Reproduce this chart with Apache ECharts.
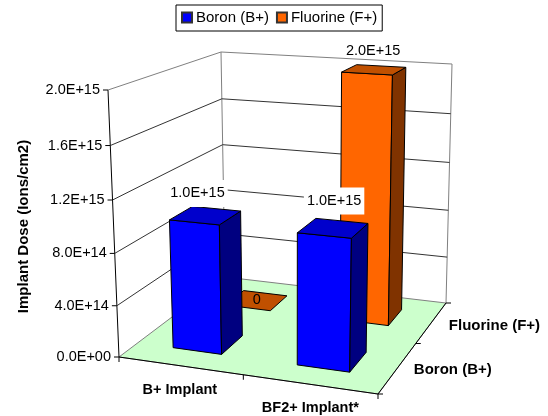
<!DOCTYPE html>
<html><head><meta charset="utf-8">
<style>html,body{margin:0;padding:0;background:#fff}#c{width:548px;height:416px}</style>
<script src="https://cdn.jsdelivr.net/npm/echarts@6/dist/echarts.min.js"></script>
</head><body><div id="c"></div>
<script>
const categories = ['B+ Implant', 'BF2+ Implant*'];
const depthNames = ['Boron (B+)', 'Fluorine (F+)'];
const boron = [1e15, 1e15];
const fluorine = [0, 2e15];
const yTicks = [0, 4e14, 8e14, 1.2e15, 1.6e15, 2e15];
const yMax = 2e15;

// projected corners of the 3D box (layout)
const FONT = '"Liberation Sans", Arial, sans-serif';
const A=[119,357],B=[378,394],C=[446,303],D=[225,277];
const E=[108,90],F=[384,108],G=[452,64],H=[221,52];
function project(u,v,h){
  const uu=u-0.08*u*(1-u), vv=v+0.22*v*(1-v), hh=h-0.05*h*(1-h);
  const out=[0,1].map(i=>{
    const bot=A[i]*(1-uu)*(1-vv)+B[i]*uu*(1-vv)+C[i]*uu*vv+D[i]*(1-uu)*vv;
    const top=E[i]*(1-uu)*(1-vv)+F[i]*uu*(1-vv)+G[i]*uu*vv+H[i]*(1-uu)*vv;
    return bot*(1-hh)+top*hh;
  });
  return out;
}
function norm(params,api,cat,val){
  const cs=params.coordSys, p=api.coord([cat,val]);
  return {u:(p[0]-cs.x)/cs.width, h:(cs.y+cs.height-p[1])/cs.height, cs};
}
function poly(points,fill,stroke){
  return {type:'polygon',shape:{points},style:{fill:fill,stroke:stroke||'#000',lineWidth:1}};
}
function seg(a,b,color){
  return {type:'line',shape:{x1:a[0],y1:a[1],x2:b[0],y2:b[1]},style:{stroke:color||'#000',lineWidth:1,fill:null}};
}
function txt(x,y,t,o){
  return {type:'text',x:x,y:y,z2:(o&&o.z2)||5,style:Object.assign({text:t,fill:'#000',font:(o&&o.bold?'bold ':'')+((o&&o.size)||14.5)+'px '+FONT,textAlign:'center',textVerticalAlign:'middle'},o&&o.extra||{})};
}
function fmt(v){
  const parts=v.toExponential(1).toUpperCase().split('E+');
  return parts[0]+'E+'+parts[1].padStart(2,'0');
}

function renderFrame(params,api){
  const val=api.value(1), n=norm(params,api,0,val), h=n.h, ch=[];
  const isTop=val===yMax, gridColor=isTop?'#808080':'#333';
  const a=project(0,0,h),b=project(0,1,h),c=project(1,1,h);
  if(params.dataIndex===0){
    ch.push(poly([project(0,0,0),project(1,0,0),project(1,1,0),project(0,1,0)],'#CCFFCC','#808080'));
    ch.push(seg(project(0,1,0),project(0,1,1),'#808080'));
    ch.push(seg(project(1,1,0),project(1,1,1),'#808080'));
    ch.push(seg(project(0,0,0),project(1,0,0)));
    ch.push(seg(project(1,0,0),project(1,1,0)));
    ch.push(seg(project(0,0,0),project(0,0,1)));
    [0,0.5,1].forEach(t=>{const p=project(t,0,0);ch.push(seg(p,[p[0],p[1]+5]));});
    [0,0.5,1].forEach(t=>{const p=project(1,t,0);ch.push(seg(p,[p[0]+5,p[1]]));});
    categories.forEach((name,i)=>{
      const c0=norm(params,api,i,0);
      const p=project(c0.u,0,0);
      ch.push(txt(p[0]+i*1,p[1]+24,name,{bold:true}));
    });
    depthNames.forEach((name,i)=>{
      const p=project(1,(i+0.5)/2,0);
      ch.push(txt(p[0]+16+i*1,p[1]+2+i*2,name,{bold:true,size:15,extra:{textAlign:'left'}}));
    });
  }
  if(val!==0){
    ch.push(seg(a,b,gridColor));
    ch.push(seg(b,c,gridColor));
  }
  ch.push(seg([a[0]-5,a[1]],a));
  ch.push(txt(a[0]-8,a[1],fmt(val),{extra:{textAlign:'right'}}));
  return {type:'group',children:ch};
}
const labelNudge={ 'Boron (B+)':[[-8,-22,1],[1,-27,1]], 'Fluorine (F+)':[[0,0,0],[-1,-19,0]] };
function barRenderer(seriesIdx,cFront,cTop,cSide){
  return function(params,api){
    const cat=api.value(0), val=api.value(1), n=norm(params,api,cat,val), h=n.h;
    const half=api.size([1,0])[0]*0.2/n.cs.width;
    const u0=n.u-half,u1=n.u+half;
    const v0=seriesIdx*0.5+0.15, v1=seriesIdx*0.5+0.35;
    const p=(u,v,hh)=>project(u,v,hh);
    const ch=[];
    if(h>0){
      ch.push(poly([p(u0,v0,0),p(u1,v0,0),p(u1,v0,h),p(u0,v0,h)],cFront));
      ch.push(poly([p(u1,v0,0),p(u1,v1,0),p(u1,v1,h),p(u1,v0,h)],cSide));
    }
    ch.push(poly([p(u0,v0,h),p(u1,v0,h),p(u1,v1,h),p(u0,v1,h)],cTop));
    const ct=p((u0+u1)/2,(v0+v1)/2,h);
    const nd=labelNudge[depthNames[seriesIdx]][cat];
    const extra=nd[2]?{backgroundColor:'#fff',padding:[6,3,6,3]}:{};
    ch.push(txt(ct[0]+nd[0],ct[1]+nd[1],val===0?'0':fmt(val),{z2:9,extra}));
    return {type:'group',children:ch};
  };
}
const chart=echarts.init(document.getElementById('c'),null,{renderer:'canvas'});
chart.setOption({
  animation:false,
  backgroundColor:'#fff',
  textStyle:{fontFamily:FONT},
  legend:{data:depthNames,left:176,top:5,itemWidth:10,itemHeight:10,itemGap:7,icon:'rect',
    borderColor:'#000',borderWidth:1,padding:[5,5,6,5],selectedMode:false,
    textStyle:{fontSize:15,fontFamily:FONT,color:'#000',padding:[0,0,0,-1]}},
  grid:{left:119,top:90,width:259,height:267},
  xAxis:{type:'category',data:categories,show:false},
  yAxis:{type:'value',min:0,max:yMax,interval:4e14,
    name:'Implant Dose (Ions/cm2)',nameLocation:'middle',nameGap:88,nameRotate:90,
    nameTextStyle:{fontSize:15,fontWeight:'bold',fontFamily:FONT,color:'#000',padding:[0,6,0,0]},
    axisLine:{show:false},axisTick:{show:false},axisLabel:{show:false},splitLine:{show:false}},
  series:[
    {type:'custom',name:'frame',silent:true,z:1,renderItem:renderFrame,data:yTicks.map(v=>[0,v])},
    {type:'custom',name:'Fluorine (F+)',z:2,renderItem:barRenderer(1,'#FF6600','#C05000','#803300'),
      itemStyle:{color:'#FF6600',borderColor:'#333',borderWidth:1},data:fluorine.map((v,i)=>[i,v])},
    {type:'custom',name:'Boron (B+)',z:3,renderItem:barRenderer(0,'#0000FF','#0000CC','#000080'),
      itemStyle:{color:'#0000FF',borderColor:'#333',borderWidth:1},data:boron.map((v,i)=>[i,v])}
  ]
});
</script></body></html>
